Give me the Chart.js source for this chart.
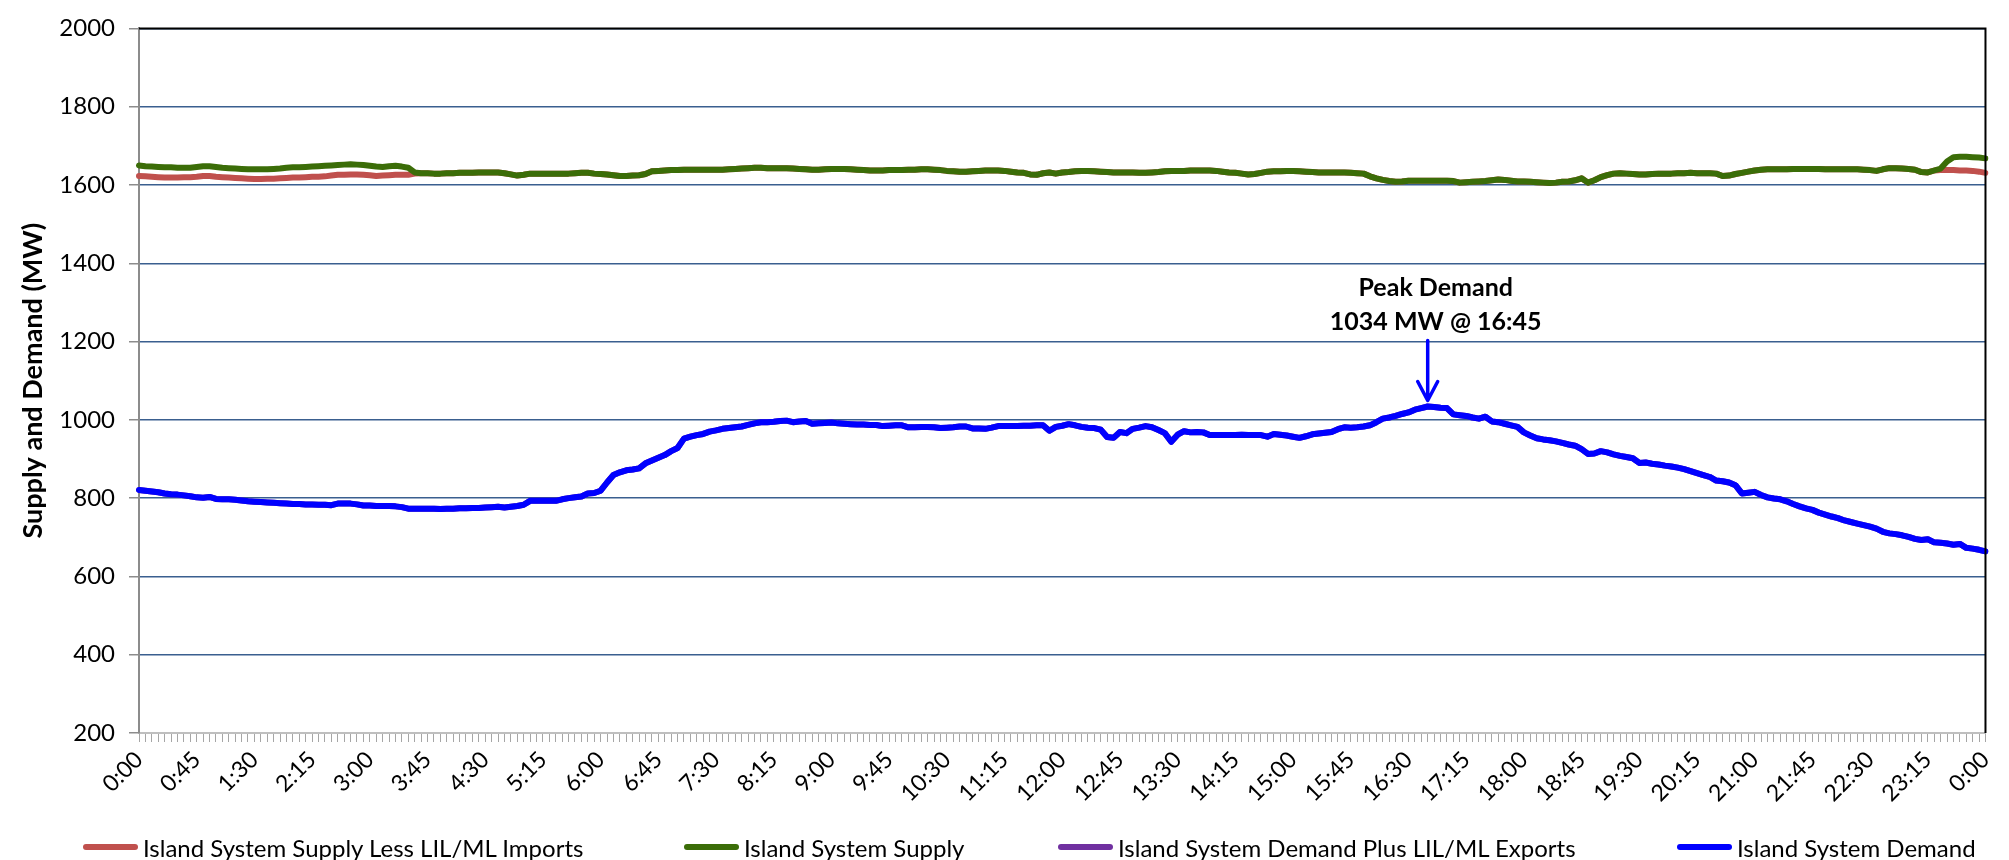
<!DOCTYPE html>
<html>
<head>
<meta charset="utf-8">
<script src="https://cdn.jsdelivr.net/npm/chart.js@4.4.0/dist/chart.umd.min.js"></script>
<style>
  html, body { margin: 0; padding: 0; background: #fff; }
  #wrap { position: relative; width: 2009px; height: 860px; }
  #legend { position: absolute; left: 0; top: 830px; width: 2009px; height: 34px;
    font-family: Lato, sans-serif; font-size: 24px; color: #000; }
  .item { position: absolute; top: 0; height: 34px; display: flex; align-items: center; white-space: nowrap; }
  .swatch { width: 55px; height: 6px; border-radius: 3px; margin-right: 5px; }
</style>
</head>
<body>
<div id="wrap">
  <canvas id="chart" width="2009" height="860"></canvas>
  <div id="legend"></div>
</div>
<script>
// 5 minute readings, 0:00 .. 0:00 next day
const times = [];
for (let m = 0; m <= 24 * 60; m += 5) times.push(`${Math.floor(m / 60) % 24}:${String(m % 60).padStart(2, '0')}`);

const seriesNames = [
  'Island System Supply Less LIL/ML Imports',
  'Island System Supply',
  'Island System Demand Plus LIL/ML Exports',
  'Island System Demand'
];

const supplyLessImports = [
  1623, 1622, 1621, 1620, 1619, 1619, 1619, 1620, 1620, 1621, 1623, 1623,
  1621, 1620, 1619, 1618, 1617, 1616, 1615, 1615, 1616, 1616, 1617, 1618,
  1619, 1619, 1620, 1621, 1621, 1622, 1624, 1626, 1626, 1627, 1627, 1626,
  1625, 1623, 1624, 1625, 1626, 1626, 1626, 1629, 1630, 1630, 1629, 1629,
  1630, 1630, 1631, 1631, 1631, 1632, 1632, 1632, 1632, 1630, 1627, 1624,
  1626, 1629, 1629, 1629, 1629, 1629, 1629, 1629, 1630, 1631, 1631, 1629,
  1628, 1627, 1625, 1623, 1623, 1624, 1625, 1628, 1635, 1636, 1637, 1638,
  1638, 1639, 1639, 1639, 1639, 1639, 1639, 1639, 1640, 1641, 1642, 1643,
  1644, 1644, 1643, 1643, 1643, 1643, 1642, 1641, 1640, 1639, 1639, 1640,
  1641, 1641, 1641, 1640, 1639, 1638, 1637, 1637, 1637, 1638, 1638, 1638,
  1639, 1639, 1640, 1640, 1639, 1638, 1636, 1635, 1634, 1634, 1635, 1636,
  1637, 1637, 1637, 1636, 1634, 1632, 1631, 1627, 1626, 1630, 1632, 1629,
  1632, 1633, 1635, 1636, 1636, 1635, 1634, 1633, 1632, 1632, 1632, 1632,
  1631, 1631, 1632, 1633, 1635, 1636, 1636, 1636, 1637, 1637, 1637, 1637,
  1636, 1634, 1632, 1631, 1629, 1627, 1628, 1631, 1634, 1635, 1635, 1636,
  1636, 1635, 1634, 1633, 1632, 1632, 1632, 1632, 1632, 1631, 1630, 1629,
  1622, 1617, 1613, 1610, 1608, 1609, 1611, 1611, 1611, 1611, 1611, 1611,
  1611, 1610, 1606, 1607, 1608, 1609, 1610, 1612, 1614, 1613, 1611, 1609,
  1609, 1608, 1607, 1606, 1605, 1606, 1608, 1609, 1612, 1617, 1606, 1612,
  1620, 1625, 1629, 1630, 1629, 1628, 1627, 1627, 1628, 1629, 1629, 1629,
  1630, 1630, 1631, 1630, 1630, 1630, 1629, 1623, 1624, 1628, 1631, 1634,
  1637, 1639, 1640, 1640, 1640, 1640, 1641, 1641, 1641, 1641, 1641, 1640,
  1640, 1640, 1640, 1640, 1640, 1639, 1638, 1636, 1640, 1643, 1643, 1642,
  1641, 1639, 1633, 1632, 1637, 1638, 1638, 1638, 1637, 1637, 1636, 1634,
  1631
];

const supply = [
  1650, 1648, 1647, 1646, 1645, 1645, 1644, 1644, 1644, 1646, 1648, 1648,
  1646, 1644, 1643, 1642, 1641, 1640, 1640, 1640, 1640, 1641, 1642, 1644,
  1645, 1645, 1646, 1647, 1648, 1649, 1650, 1651, 1652, 1653, 1652, 1651,
  1649, 1647, 1646, 1648, 1649, 1647, 1644, 1632, 1630, 1630, 1629, 1629,
  1630, 1630, 1631, 1631, 1631, 1632, 1632, 1632, 1632, 1630, 1627, 1624,
  1626, 1629, 1629, 1629, 1629, 1629, 1629, 1629, 1630, 1631, 1631, 1629,
  1628, 1627, 1625, 1623, 1623, 1624, 1625, 1628, 1635, 1636, 1637, 1638,
  1638, 1639, 1639, 1639, 1639, 1639, 1639, 1639, 1640, 1641, 1642, 1643,
  1644, 1644, 1643, 1643, 1643, 1643, 1642, 1641, 1640, 1639, 1639, 1640,
  1641, 1641, 1641, 1640, 1639, 1638, 1637, 1637, 1637, 1638, 1638, 1638,
  1639, 1639, 1640, 1640, 1639, 1638, 1636, 1635, 1634, 1634, 1635, 1636,
  1637, 1637, 1637, 1636, 1634, 1632, 1631, 1627, 1626, 1630, 1632, 1629,
  1632, 1633, 1635, 1636, 1636, 1635, 1634, 1633, 1632, 1632, 1632, 1632,
  1631, 1631, 1632, 1633, 1635, 1636, 1636, 1636, 1637, 1637, 1637, 1637,
  1636, 1634, 1632, 1631, 1629, 1627, 1628, 1631, 1634, 1635, 1635, 1636,
  1636, 1635, 1634, 1633, 1632, 1632, 1632, 1632, 1632, 1631, 1630, 1629,
  1622, 1617, 1613, 1610, 1608, 1609, 1611, 1611, 1611, 1611, 1611, 1611,
  1611, 1610, 1606, 1607, 1608, 1609, 1610, 1612, 1614, 1613, 1611, 1609,
  1609, 1608, 1607, 1606, 1605, 1606, 1608, 1609, 1612, 1617, 1606, 1612,
  1620, 1625, 1629, 1630, 1629, 1628, 1627, 1627, 1628, 1629, 1629, 1629,
  1630, 1630, 1631, 1630, 1630, 1630, 1629, 1623, 1624, 1628, 1631, 1634,
  1637, 1639, 1640, 1640, 1640, 1640, 1641, 1641, 1641, 1641, 1641, 1640,
  1640, 1640, 1640, 1640, 1640, 1639, 1638, 1636, 1640, 1643, 1643, 1642,
  1641, 1639, 1633, 1632, 1637, 1642, 1660, 1671, 1672, 1672, 1671, 1670,
  1668
];

const demand = [
  821, 819, 817, 815, 812, 810, 809, 807, 805, 802, 801, 803,
  798, 797, 797, 796, 794, 792, 791, 790, 789, 788, 787, 786,
  785, 785, 784, 784, 783, 783, 782, 786, 786, 786, 784, 781,
  781, 780, 780, 780, 779, 777, 773, 773, 773, 773, 773, 772,
  773, 773, 774, 774, 775, 775, 776, 777, 778, 776, 778, 780,
  783, 793, 793, 793, 793, 793, 797, 800, 802, 804, 812, 813,
  819, 840, 859, 866, 871, 873, 876, 889, 896, 903, 910, 920,
  928, 952, 957, 961, 964, 970, 973, 977, 979, 981, 983, 987,
  991, 994, 994, 995, 997, 998, 994, 996, 997, 990, 991, 992,
  993, 991, 990, 989, 988, 988, 987, 987, 984, 985, 986, 986,
  981, 981, 982, 982, 981, 979, 980, 981, 983, 983, 978, 978,
  977, 980, 984, 984, 984, 984, 985, 985, 986, 986, 972, 982,
  985, 989, 986, 982, 980, 979, 975, 956, 954, 969, 966, 977,
  980, 984, 981, 974, 966, 944, 962, 971, 968, 969, 968, 961,
  961, 961, 961, 961, 962, 961, 961, 961, 957, 964, 962, 960,
  957, 954, 958, 963, 965, 967, 969, 976, 981, 980, 981, 983,
  986, 994, 1003, 1006, 1010, 1015, 1019, 1026, 1030, 1034, 1033, 1031,
  1030, 1014, 1012, 1010, 1006, 1003, 1008, 996, 994, 990, 986, 982,
  968, 960, 953, 950, 948, 945, 941, 937, 934, 925, 913, 914,
  920, 917, 912, 908, 905, 902, 890, 891, 888, 886, 883, 881,
  878, 874, 869, 864, 859, 854, 845, 843, 840, 833, 812, 814,
  816, 808, 802, 799, 797, 792, 785, 779, 774, 770, 763, 758,
  753, 749, 743, 739, 735, 731, 727, 722, 714, 710, 708, 705,
  701, 696, 693, 695, 687, 686, 684, 681, 683, 673, 671, 668,
  664
];

// no exports this day: the purple trace sits exactly under the blue one
const demandPlusExports = demand.slice();

const yTicks = [200, 400, 600, 800, 1000, 1200, 1400, 1600, 1800, 2000];
const labelEvery = 9; // one label per 45 min

const colors = ['#c0504d', '#3b6d08', '#7030a0', '#0000ff'];
const legendX = [83, 684, 1058, 1677];

const peakIndex = demand.indexOf(Math.max(...demand));

const plotFrame = {
	id: 'plotFrame',
	afterDatasetsDraw(chart) {
		const { ctx, chartArea: a } = chart;
		ctx.save();
		ctx.strokeStyle = '#000';
		ctx.lineWidth = 2;
		ctx.beginPath();
		ctx.moveTo(a.left, a.top);
		ctx.lineTo(a.right, a.top);
		ctx.lineTo(a.right, a.bottom);
		ctx.stroke();
		ctx.restore();
	}
};

const peakNote = {
	id: 'peakNote',
	afterDatasetsDraw(chart) {
		const { ctx, scales: { x, y } } = chart;
		const px = x.getPixelForValue(peakIndex);
		const py = y.getPixelForValue(demand[peakIndex]);
		ctx.save();
		ctx.strokeStyle = '#0000ff';
		ctx.lineWidth = 3.5;
		ctx.lineCap = 'round';
		ctx.lineJoin = 'round';
		ctx.beginPath();
		ctx.moveTo(px, py - 66);
		ctx.lineTo(px, py - 6);
		ctx.moveTo(px - 10, py - 25);
		ctx.lineTo(px, py - 6);
		ctx.lineTo(px + 10, py - 25);
		ctx.stroke();
		ctx.fillStyle = '#000';
		ctx.font = 'bold 25px Lato';
		ctx.textAlign = 'center';
		ctx.textBaseline = 'middle';
		ctx.fillText('Peak Demand', px + 8, py - 119);
		ctx.fillText(`${demand[peakIndex]} MW @ ${times[peakIndex]}`, px + 8, py - 85);
		ctx.restore();
	}
};

const series = [supplyLessImports, supply, demandPlusExports, demand];

const chart = new Chart(document.getElementById('chart'), {
	type: 'line',
	data: {
		labels: times,
		datasets: series.map((d, i) => ({
			label: seriesNames[i],
			data: d,
			borderColor: colors[i],
			backgroundColor: colors[i],
			borderWidth: 6,
			pointRadius: 0,
			tension: 0,
			borderJoinStyle: 'round',
			borderCapStyle: 'round',
			order: series.length - 1 - i
		}))
	},
	options: {
		responsive: false,
		devicePixelRatio: 1,
		animation: false,
		events: [],
		layout: { padding: { top: 27, right: 8, bottom: 47, left: 0 } },
		plugins: {
			legend: { display: false },
			tooltip: { enabled: false }
		},
		scales: {
			x: {
				offset: false,
				grid: { drawOnChartArea: false, drawTicks: true, tickLength: 9, color: '#a6a6a6', lineWidth: 1 },
				border: { color: '#bfbfbf', width: 2 },
				ticks: {
					autoSkip: false,
					minRotation: 45,
					maxRotation: 45,
					padding: 4,
					color: '#000',
					font: { family: 'Lato', size: 23 },
					callback: (v, i) => (i % labelEvery === 0 ? times[i] : '')
				},
				afterFit: s => { s.height = 80; }
			},
			y: {
				min: yTicks[0],
				max: yTicks[yTicks.length - 1],
				afterBuildTicks: s => { s.ticks = yTicks.map(v => ({ value: v })); },
				ticks: {
					color: '#000',
					font: { family: 'Lato', size: 24 },
					padding: 14,
					callback: v => String(v)
				},
				grid: { color: '#3a5f8f', lineWidth: 1.5, tickColor: '#8c8c8c', tickLength: 10 },
				border: { color: '#8c8c8c', width: 2 },
				title: {
					display: true,
					text: 'Supply and Demand (MW)',
					color: '#000',
					font: { family: 'Lato', size: 27, weight: 'bold' },
					padding: { top: 17, bottom: 0 }
				},
				afterFit: s => { s.width = 139; }
			}
		}
	},
	plugins: [plotFrame, peakNote]
});

// legend laid out like the original, spread along the bottom
const legend = document.getElementById('legend');
chart.data.datasets.forEach((ds, i) => {
	const item = document.createElement('div');
	item.className = 'item';
	item.style.left = legendX[i] + 'px';
	const sw = document.createElement('span');
	sw.className = 'swatch';
	sw.style.background = ds.borderColor;
	item.appendChild(sw);
	item.appendChild(document.createTextNode(ds.label));
	legend.appendChild(item);
});
</script>
</body>
</html>
